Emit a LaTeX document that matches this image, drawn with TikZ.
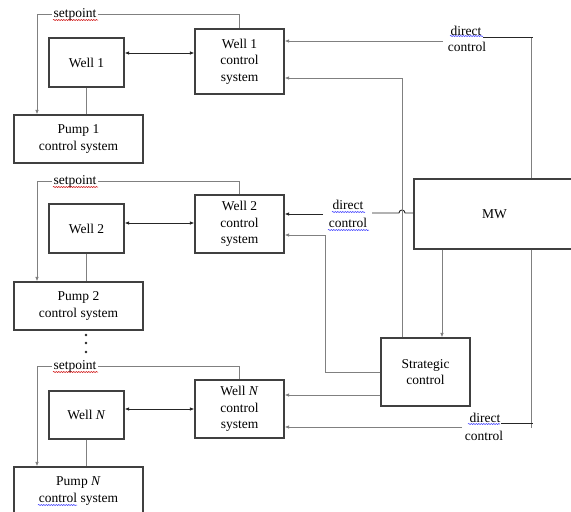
\documentclass[tikz,border=0pt]{standalone}
\usepackage{fontspec}
\setmainfont{Liberation Serif}
\usetikzlibrary{arrows.meta,decorations.pathmorphing}
\begin{document}
\begin{tikzpicture}[x=1pt,y=-1pt,
  every node/.style={font=\fontsize{13.5}{16.5}\selectfont},
  box/.style={draw=black!75, line width=1.1pt, fill=white, inner sep=0pt, align=center},
  lbl/.style={inner sep=1.5pt, align=center},
  conn/.style={draw=black!50, line width=0.9pt},
  link/.style={draw=black!85, line width=0.9pt},
  tip/.tip={Latex[length=4.5pt,width=3.5pt]},
  arr/.style={conn, -tip},
  twoway/.style={link, tip-tip},
  redwave/.style={draw=red!80!black, line width=0.5pt, decorate,
    decoration={snake, amplitude=0.6pt, segment length=2.5pt}},
  bluewave/.style={redwave, draw=blue!80},
]
\useasboundingbox (0,0) rectangle (571,512);
\clip (0,0) rectangle (571,512);

% ---- well 1 group ----
\node[box, minimum width=75pt, minimum height=49pt] (w1) at (86.5,62.5) {Well 1};
\node[box, minimum width=89pt, minimum height=65pt] (wcs1) at (239.5,61.5) {Well 1\\control\\system};
\node[box, minimum width=129pt, minimum height=48pt] (p1) at (78.5,139) {Pump 1\\control system};
\node[lbl] (sp1) at (75,14) {setpoint};

% ---- well 2 group ----
\node[box, minimum width=75pt, minimum height=49pt] (w2) at (86.5,228.5) {Well 2};
\node[box, minimum width=89pt, minimum height=58pt] (wcs2) at (239.5,224) {Well 2\\control\\system};
\node[box, minimum width=129pt, minimum height=48pt] (p2) at (78.5,306) {Pump 2\\control system};
\node[lbl] (sp2) at (75,181) {setpoint};

% ---- well N group ----
\node[box, minimum width=75pt, minimum height=48pt] (wN) at (86.5,415) {Well \textit{N}};
\node[box, minimum width=89pt, minimum height=58pt] (wcsN) at (239.5,409) {Well \textit{N}\\control\\system};
\node[box, minimum width=129pt, minimum height=48pt] (pN) at (78.5,491) {Pump \textit{N}\\control system};
\node[lbl] (spN) at (75,366) {setpoint};

% ---- supervisory blocks ----
\node[box, minimum width=161pt, minimum height=70pt] (mw) at (494.5,214) {MW};
\node[box, minimum width=89pt, minimum height=68pt] (sc) at (425.5,372) {Strategic\\control};

% ---- "direct control" labels ----
\node[lbl] (dt1) at (466,31) {direct};
\node[lbl] (dt2) at (467,47) {control};
\node[lbl] (dm1) at (348,205) {direct};
\node[lbl] (dm2) at (348,223) {control};
\node[lbl] (db1) at (485,418) {direct};
\node[lbl] (db2) at (484,436) {control};

% ---- local loops: well <-> control system, setpoint to pump ----
\foreach \g in {1,2,N}{
  \draw[conn] (wcs\g.north) |- (sp\g.east);
  \draw[arr] (sp\g.west) -| (37,0 |- p\g.north);
  \draw[conn] (w\g.south) -- (w\g.south |- p\g.north);
}
\draw[twoway] (w1.east |- 0,53) -- (wcs1.west |- 0,53);
\draw[twoway] (w2.east |- 0,223) -- (wcs2.west |- 0,223);
\draw[twoway] (wN.east |- 0,409) -- (wcsN.west |- 0,409);

% dots between groups
\fill[black!85] (86,335) circle (1.4pt) (86,343) circle (1.4pt) (86,352) circle (1.4pt);

% ---- direct control from MW ----
\coordinate (dtl) at (443,41);
\coordinate (dbl) at (462,427);
\draw[conn] (531,0 |- mw.north) -- (531,37);
\draw[link] (483,37) -- (533,37);
\draw[arr] (dtl) -- (wcs1.east |- dtl);

\draw[link] (mw.west |- 0,213) -- (405,213) .. controls (405,209) and (399,209) .. (399,213) -- (372,213);
\draw[link, -tip] (323,214) -- (wcs2.east |- 0,214);

\draw[conn] (531,0 |- mw.south) -- (531,428);
\draw[link] (501,423) -- (533,423);
\draw[arr] (dbl) -- (wcsN.east |- dbl);

% ---- strategic control ----
\draw[arr] (442,0 |- mw.south) -- (442,0 |- sc.north);
\draw[arr] (402,0 |- sc.north) |- (wcs1.east |- 0,78);
\draw[arr] (sc.west) -| (325,235) -- (wcs2.east |- 0,235);
\draw[arr] (sc.west |- 0,395) -- (wcsN.east |- 0,395);

% ---- wavy spelling underlines ----
\draw[redwave] (53,20) -- (98,20);
\draw[redwave] (53,187) -- (98,187);
\draw[redwave] (53,372) -- (98,372);
\draw[bluewave] (450,36) -- (483,36);
\draw[bluewave] (332,212) -- (365,212);
\draw[bluewave] (328,230) -- (369,230);
\draw[bluewave] (468,424) -- (500,424);
\draw[bluewave] (38,505) -- (77,505);
\end{tikzpicture}
\end{document}
